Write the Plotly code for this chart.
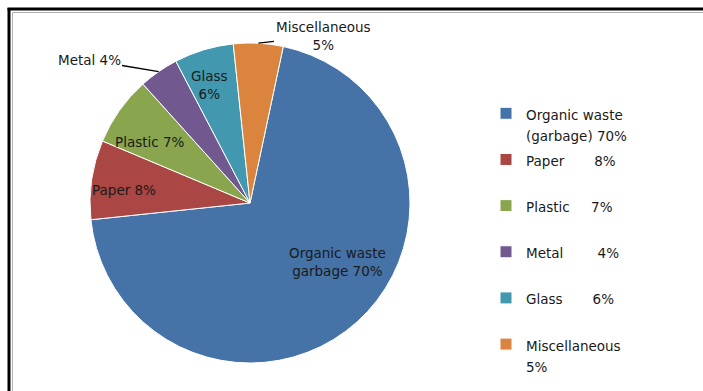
import math
import plotly.graph_objects as go

# Municipal solid waste composition
categories = ["Organic waste (garbage)", "Paper", "Plastic", "Metal", "Glass", "Miscellaneous"]
shares = [70, 8, 7, 4, 6, 5]
slice_text = ["Organic waste<br>garbage 70%", "Paper 8%", "Plastic 7%",
              "Metal 4%", "Glass<br>6%", "Miscellaneous<br>5%"]
callout = [False, False, False, True, False, True]
legend_text = [
    "Organic waste<br>(garbage) 70%",
    "Paper\u00a0\u00a0\u00a0\u00a0\u00a0\u00a0\u00a08%",
    "Plastic\u00a0\u00a0\u00a0\u00a0\u00a07%",
    "Metal\u00a0\u00a0\u00a0\u00a0\u00a0\u00a0\u00a0\u00a04%",
    "Glass\u00a0\u00a0\u00a0\u00a0\u00a0\u00a0\u00a06%",
    "Miscellaneous<br>5%",
]
colors = ["#4572A7", "#AA4643", "#89A54E", "#71588F", "#4198AF", "#DB843D"]

W, H = 703, 391
FONT = "DejaVu Sans"
TXT = 13.5
ROT = 12

# pad each legend entry to two lines so entries are evenly spaced
legend_labels = []
for lab in legend_text:
    if "<br>" in lab:
        a, b = lab.split("<br>")
        legend_labels.append(f"<span style='font-size:{TXT}px'>{a}</span><br>"
                             f"<span style='font-size:{TXT}px'>{b}</span>")
    else:
        legend_labels.append(f"<span style='font-size:{TXT}px'>{lab}</span><br>\u00a0")

cx, cy, r = 250, 203, 160

fig = go.Figure(go.Pie(
    labels=legend_labels,
    values=shares,
    textinfo="none",
    marker=dict(colors=colors, line=dict(color="white", width=1)),
    sort=False,
    direction="clockwise",
    rotation=ROT,
    hoverinfo="none",
    domain=dict(x=[(cx - r) / W, (cx + r) / W],
                y=[(H - cy - r) / H, (H - cy + r) / H]),
))

# data labels: placed inside the wide slices, callouts with leader lines for thin ones
label_spot = {
    "Organic waste (garbage)": (337, 262),
    "Paper": (124, 190),
    "Plastic": (150, 142),
    "Metal": (89, 60),
    "Glass": (209, 85),
    "Miscellaneous": (323, 36),
}
annotations = []
total = sum(shares)
cum = 0
for cat, val, txt, co in zip(categories, shares, slice_text, callout):
    mid = math.radians(ROT + 360 * (cum + val / 2) / total)
    cum += val
    tx, ty = label_spot[cat]
    font = dict(family=FONT, size=TXT, color="#1a1a1a")
    if co:
        tip_x = cx + r * math.sin(mid)
        tip_y = cy - r * math.cos(mid)
        annotations.append(dict(
            x=tip_x / W, y=1 - tip_y / H, xref="paper", yref="paper",
            ax=tx - tip_x, ay=ty - tip_y, axref="pixel", ayref="pixel",
            text=txt, showarrow=True, arrowhead=0, arrowwidth=1.3, arrowcolor="black",
            font=font, align="center",
        ))
    else:
        annotations.append(dict(
            x=tx / W, y=1 - ty / H, xref="paper", yref="paper",
            xanchor="center", yanchor="middle", showarrow=False,
            text=txt, font=font, align="center",
        ))

# chart frame: heavy black edge with a thin grey inner line
shapes = [
    dict(type="line", xref="paper", yref="paper", x0=9 / W, x1=9 / W, y0=0, y1=(H - 8) / H,
         line=dict(color="black", width=3)),
    dict(type="line", xref="paper", yref="paper", x0=7.5 / W, x1=1, y0=(H - 9) / H, y1=(H - 9) / H,
         line=dict(color="black", width=3)),
    dict(type="line", xref="paper", yref="paper", x0=12.5 / W, x1=12.5 / W, y0=0, y1=(H - 12.5) / H,
         line=dict(color="#b0b0b0", width=1)),
    dict(type="line", xref="paper", yref="paper", x0=12.5 / W, x1=1, y0=(H - 12.5) / H, y1=(H - 12.5) / H,
         line=dict(color="#b0b0b0", width=1)),
]

fig.update_layout(
    width=W, height=H,
    margin=dict(l=0, r=0, t=0, b=0, autoexpand=False),
    paper_bgcolor="white",
    plot_bgcolor="white",
    font=dict(family=FONT, size=TXT, color="#1a1a1a"),
    showlegend=True,
    legend=dict(x=486 / W, xanchor="left", y=(H - 96) / H, yanchor="top",
                font=dict(family=FONT, size=16.6, color="#1a1a1a"),
                valign="top", bgcolor="rgba(0,0,0,0)"),
    shapes=shapes,
    annotations=annotations,
)

fig.write_html("out.html")
